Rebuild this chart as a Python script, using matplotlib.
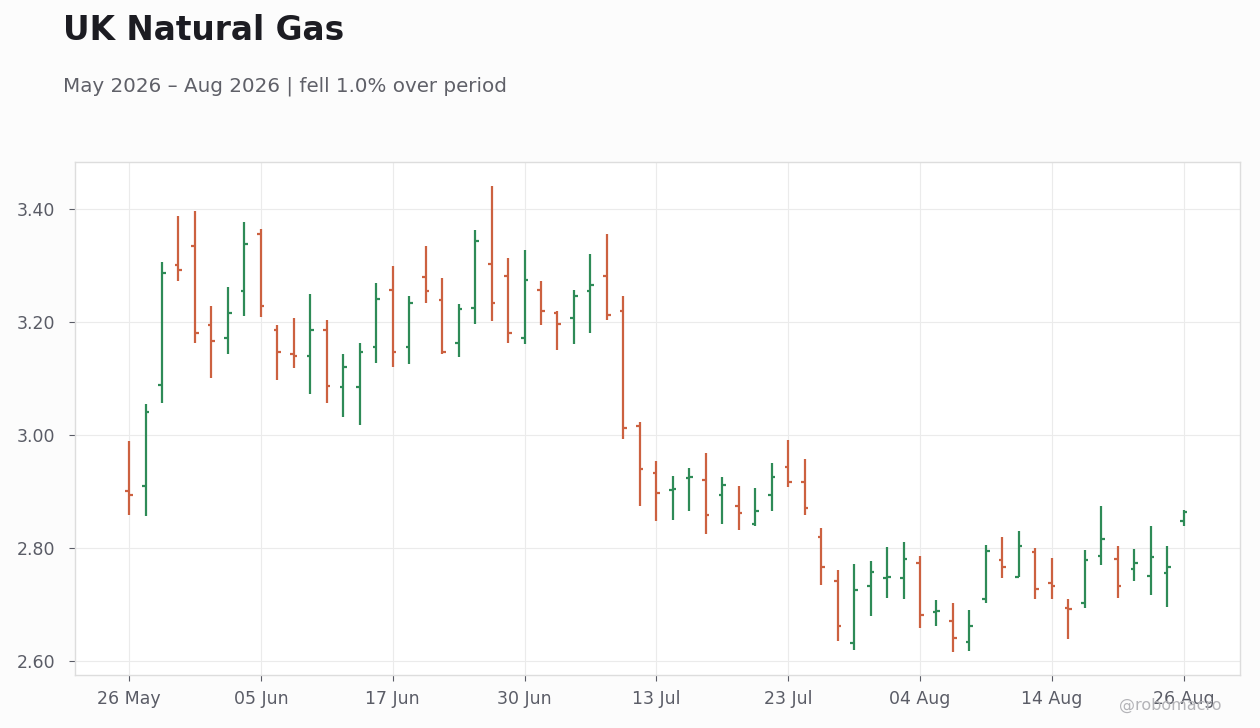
import matplotlib.pyplot as plt
import numpy as np
import datetime as dt

# trading dates (one per bar)
dates = [
    "2026-05-26", "2026-05-27", "2026-05-28", "2026-05-29", "2026-06-01", "2026-06-02", "2026-06-03", "2026-06-04",
    "2026-06-05", "2026-06-08", "2026-06-09", "2026-06-10", "2026-06-11", "2026-06-12", "2026-06-15", "2026-06-16",
    "2026-06-17", "2026-06-18", "2026-06-19", "2026-06-22", "2026-06-23", "2026-06-25", "2026-06-26", "2026-06-29",
    "2026-06-30", "2026-07-01", "2026-07-02", "2026-07-06", "2026-07-07", "2026-07-08", "2026-07-09", "2026-07-10",
    "2026-07-13", "2026-07-14", "2026-07-15", "2026-07-16", "2026-07-17", "2026-07-20", "2026-07-21", "2026-07-22",
    "2026-07-23", "2026-07-24", "2026-07-27", "2026-07-28", "2026-07-29", "2026-07-30", "2026-07-31", "2026-08-03",
    "2026-08-04", "2026-08-05", "2026-08-06", "2026-08-07", "2026-08-10", "2026-08-11", "2026-08-12", "2026-08-13",
    "2026-08-14", "2026-08-17", "2026-08-18", "2026-08-19", "2026-08-20", "2026-08-21", "2026-08-24", "2026-08-25",
    "2026-08-26",
]

opens = [
    2.901, 2.910, 3.089, 3.300, 3.335, 3.195, 3.172, 3.255, 3.356, 3.186,
    3.144, 3.139, 3.186, 3.085, 3.085, 3.156, 3.257, 3.155, 3.280, 3.238,
    3.162, 3.224, 3.303, 3.282, 3.172, 3.257, 3.215, 3.206, 3.255, 3.282,
    3.220, 3.016, 2.932, 2.903, 2.924, 2.921, 2.894, 2.875, 2.843, 2.893,
    2.944, 2.916, 2.820, 2.742, 2.632, 2.733, 2.747, 2.746, 2.774, 2.687,
    2.671, 2.634, 2.710, 2.779, 2.749, 2.793, 2.737, 2.693, 2.703, 2.786,
    2.781, 2.763, 2.751, 2.755, 2.847,
]
highs = [
    2.990, 3.055, 3.306, 3.388, 3.396, 3.228, 3.262, 3.377, 3.365, 3.195,
    3.207, 3.250, 3.204, 3.143, 3.163, 3.269, 3.299, 3.246, 3.335, 3.278,
    3.232, 3.362, 3.441, 3.313, 3.327, 3.272, 3.219, 3.257, 3.320, 3.356,
    3.245, 3.023, 2.954, 2.927, 2.942, 2.968, 2.926, 2.910, 2.906, 2.950,
    2.991, 2.958, 2.835, 2.761, 2.772, 2.777, 2.802, 2.811, 2.786, 2.708,
    2.703, 2.690, 2.805, 2.819, 2.830, 2.800, 2.782, 2.710, 2.796, 2.874,
    2.804, 2.798, 2.839, 2.804, 2.867,
]
lows = [
    2.859, 2.857, 3.057, 3.273, 3.162, 3.100, 3.144, 3.211, 3.209, 3.098,
    3.118, 3.073, 3.056, 3.032, 3.018, 3.128, 3.121, 3.126, 3.234, 3.143,
    3.137, 3.197, 3.202, 3.163, 3.160, 3.195, 3.151, 3.160, 3.181, 3.204,
    2.992, 2.875, 2.848, 2.850, 2.866, 2.824, 2.843, 2.832, 2.839, 2.866,
    2.907, 2.859, 2.735, 2.636, 2.620, 2.680, 2.712, 2.710, 2.659, 2.661,
    2.616, 2.618, 2.703, 2.746, 2.749, 2.710, 2.710, 2.639, 2.693, 2.770,
    2.712, 2.742, 2.717, 2.696, 2.839,
]
closes = [
    2.894, 3.041, 3.286, 3.291, 3.180, 3.167, 3.215, 3.337, 3.229, 3.147,
    3.140, 3.186, 3.087, 3.121, 3.147, 3.240, 3.146, 3.234, 3.254, 3.147,
    3.222, 3.344, 3.233, 3.181, 3.275, 3.220, 3.197, 3.246, 3.266, 3.213,
    3.013, 2.940, 2.898, 2.905, 2.925, 2.859, 2.912, 2.861, 2.866, 2.926,
    2.917, 2.871, 2.767, 2.662, 2.726, 2.758, 2.748, 2.781, 2.682, 2.689,
    2.641, 2.662, 2.795, 2.767, 2.804, 2.728, 2.733, 2.691, 2.778, 2.815,
    2.733, 2.774, 2.783, 2.767, 2.864,
]
yticks = [2.60, 2.80, 3.00, 3.20, 3.40]

UP = "#2e8b57"
DOWN = "#cc6140"

fig = plt.figure(figsize=(12.6, 7.28), dpi=100, facecolor="#fcfcfc")
ax = fig.add_axes([75 / 1260, 53 / 728, 1165 / 1260, 513 / 728])
ax.set_facecolor("white")

x = np.arange(len(dates))
tick_w = 0.22
for i in x:
    c = UP if closes[i] >= opens[i] else DOWN
    ax.vlines(i, lows[i], highs[i], color=c, linewidth=1.6)
    ax.hlines(opens[i], i - tick_w, i, color=c, linewidth=1.6)
    ax.hlines(closes[i], i, i + tick_w, color=c, linewidth=1.6)

ax.set_xlim(-3.28, 67.42)
ax.set_ylim(2.575, 3.483)
ax.set_yticks(yticks)
ax.set_yticklabels([f"{v:.2f}" for v in yticks])

ticks = list(range(0, len(dates), 8))
ax.set_xticks(ticks)
ax.set_xticklabels([dt.date.fromisoformat(dates[t]).strftime("%d %b") for t in ticks])

ax.grid(True, color="#ebebeb", linewidth=0.8)
ax.set_axisbelow(True)
for s in ax.spines.values():
    s.set_color("#dddddd")
    s.set_linewidth(1.0)
ax.tick_params(axis="both", colors="#5a5c66", labelsize=12.5, length=4, color="#5a5c66", width=0.8)
ax.tick_params(axis="y", pad=10)
ax.tick_params(axis="x", pad=7)

fig.text(63 / 1260, 1 - 30 / 728, "UK Natural Gas", fontsize=23.6, fontweight="bold",
         color="#1c1c22", va="center", ha="left")
fig.text(63 / 1260, 1 - 86 / 728, "May 2026 \u2013 Aug 2026 | fell 1.0% over period",
         fontsize=14.3, color="#5f6068", va="center", ha="left")
fig.text(1222 / 1260, 1 - 705 / 728, "@robomacro", fontsize=11.5, color="#b4b4b8",
         va="center", ha="right")

fig.savefig("out.png", dpi=100, facecolor=fig.get_facecolor())
